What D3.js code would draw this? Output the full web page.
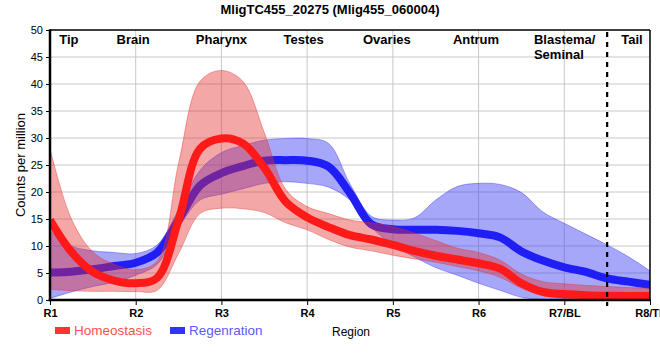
<!DOCTYPE html>
<html>
<head>
<meta charset="utf-8">
<script src="https://cdn.jsdelivr.net/npm/d3@7"></script>
<style>
  html, body { margin: 0; padding: 0; background: #fff; }
  svg { display: block; font-family: "Liberation Sans", Arial, sans-serif; }
</style>
</head>
<body>
<svg id="chart" width="660" height="360"></svg>
<script>
// ---- data ----
const title = "MligTC455_20275 (Mlig455_060004)";
const tickLabels = ["R1", "R2", "R3", "R4", "R5", "R6", "R7/BL", "R8/TL"];
const yTicks = [0, 5, 10, 15, 20, 25, 30, 35, 40, 45, 50];
const regionNames = ["Tip", "Brain", "Pharynx", "Testes", "Ovaries", "Antrum", "Blastema/|Seminal", "Tail"];
const regionPos = [1.22, 1.97, 3.0, 3.96, 4.93, 5.97, 6.78, 7.79];
const tailBoundary = 7.5;

// sample positions (region units, quarter steps)
const positions = [1, 1.25, 1.5, 1.75, 2, 2.25, 2.5, 2.75, 3, 3.25, 3.5, 3.75, 4, 4.25, 4.5, 4.75,
                   5, 5.25, 5.5, 5.75, 6, 6.25, 6.5, 6.75, 7, 7.25, 7.5, 7.75, 8];

const homeoMean  = [14.8, 8.9, 5.2, 3.6, 3.1, 4.1, 14.8, 28.0, 29.9, 29.0, 24.5, 18.2, 15.3, 13.5, 12.0, 11.2,
                    10.2, 9.1, 8.2, 7.5, 6.8, 5.8, 3.1, 1.5, 1.1, 0.9, 0.8, 0.75, 0.75];
const homeoUpper = [28.0, 15.0, 8.9, 6.6, 5.6, 7.2, 25.3, 40.5, 42.5, 40.5, 31.0, 20.5, 17.3, 16.0, 14.8, 14.3,
                    13.6, 12.4, 11.0, 9.6, 8.8, 7.4, 4.8, 3.4, 3.0, 2.7, 2.5, 2.3, 2.2];
const homeoLower = [2.0, 1.7, 1.6, 1.6, 1.55, 1.8, 8.6, 16.0, 17.0, 16.9, 16.2, 14.3, 13.0, 11.2, 9.8, 9.1,
                    8.3, 7.6, 7.0, 6.2, 5.4, 4.2, 2.2, 0.8, 0.3, 0.2, 0.2, 0.2, 0.2];

const regenMean  = [5.1, 5.25, 5.7, 6.3, 6.9, 8.8, 14.8, 21.2, 23.5, 24.8, 25.8, 25.9, 25.8, 24.7, 19.8, 14.0,
                    13.1, 13.0, 13.0, 12.8, 12.35, 11.6, 9.0, 7.3, 6.05, 5.2, 4.0, 3.4, 2.8];
const regenUpper = [12.8, 10.0, 9.1, 8.8, 8.6, 10.2, 16.7, 24.0, 27.3, 28.6, 29.6, 29.9, 29.9, 29.0, 21.5, 15.5,
                    14.8, 15.2, 18.5, 21.0, 21.6, 21.4, 19.9, 16.3, 14.2, 12.2, 10.2, 8.0, 5.4];
const regenLower = [0.3, 1.5, 2.5, 3.3, 4.6, 6.6, 13.4, 18.5, 19.6, 20.6, 21.6, 21.9, 21.6, 20.9, 18.5, 13.5,
                    10.2, 8.0, 6.0, 4.6, 3.1, 1.8, 0.5, 0.1, 0, 0, 0, 0, 0];

const seriesNames = ["Homeostasis", "Regenration"];

// ---- layout ----
const svg = d3.select("#chart");
const L = 50, R = 650, T = 30, B = 300;
const x = d3.scaleLinear().domain([1, 8]).range([L, R]);
const y = d3.scaleLinear().domain([0, 50]).range([B, T]);

// grid
const grid = svg.append("g");
grid.selectAll("line.h").data(yTicks.slice(1, -1)).enter().append("line")
  .attr("x1", L).attr("x2", R).attr("y1", d => y(d)).attr("y2", d => y(d))
  .attr("stroke", "#c8c8c8").attr("stroke-width", 1);
grid.selectAll("line.v").data(d3.range(2, 8)).enter().append("line")
  .attr("y1", T).attr("y2", B).attr("x1", d => x(d)).attr("x2", d => x(d))
  .attr("stroke", "#c8c8c8").attr("stroke-width", 1);

svg.append("defs").append("clipPath").attr("id", "clip")
  .append("rect").attr("x", L).attr("y", T).attr("width", R - L).attr("height", B - T);

const plot = svg.append("g").attr("clip-path", "url(#clip)");

function mk(mean, lo, up) {
  return positions.map((p, i) => ({ p, m: mean[i], lo: lo[i], up: up[i] }));
}
const homeo = mk(homeoMean, homeoLower, homeoUpper);
const regen = mk(regenMean, regenLower, regenUpper);

const crv = d3.curveCatmullRom.alpha(0.5);
const area = d3.area().x(d => x(d.p)).y0(d => y(d.lo)).y1(d => y(d.up)).curve(crv);
const line = d3.line().x(d => x(d.p)).y(d => y(d.m)).curve(crv);

// regeneration first (below), homeostasis on top
plot.append("path").datum(regen).attr("d", area)
  .attr("fill", "rgba(60,60,245,0.45)").attr("stroke", "rgba(60,60,245,0.45)").attr("stroke-width", 1);
plot.append("path").datum(regen).attr("d", line)
  .attr("fill", "none").attr("stroke", "#1e1ef5").attr("stroke-width", 8);
plot.append("path").datum(homeo).attr("d", area)
  .attr("fill", "rgba(228,45,45,0.42)").attr("stroke", "rgba(228,45,45,0.4)").attr("stroke-width", 1);
plot.append("path").datum(homeo).attr("d", line)
  .attr("fill", "none").attr("stroke", "#ff1a1a").attr("stroke-width", 8);

// dashed tail boundary
svg.append("line").attr("x1", x(tailBoundary)).attr("x2", x(tailBoundary))
  .attr("y1", T + 2).attr("y2", B + 6)
  .attr("stroke", "#000").attr("stroke-width", 2.2).attr("stroke-dasharray", "5,5");

// borders
svg.append("line").attr("x1", L).attr("x2", R).attr("y1", T).attr("y2", T)
  .attr("stroke", "#000").attr("stroke-width", 1.5);
svg.append("line").attr("x1", R).attr("x2", R).attr("y1", T).attr("y2", B)
  .attr("stroke", "#000").attr("stroke-width", 1.5);

// axes
const yAxis = d3.axisLeft(y).tickValues(yTicks).tickSize(4).tickPadding(3);
const gy = svg.append("g").attr("transform", `translate(${L},0)`).call(yAxis);
gy.select(".domain").remove();
gy.selectAll("text").attr("font-size", 11).attr("font-family", "Liberation Sans, Arial, sans-serif").attr("fill", "#000");
svg.append("line").attr("x1", L).attr("x2", L).attr("y1", T - 0.75).attr("y2", B + 1.25)
  .attr("stroke", "#000").attr("stroke-width", 2.5);

const xAxis = d3.axisBottom(x).tickValues(d3.range(1, 9)).tickFormat((d, i) => tickLabels[i]).tickSize(5).tickPadding(4);
const gx = svg.append("g").attr("transform", `translate(0,${B})`).call(xAxis);
gx.select(".domain").remove();
gx.selectAll("text").attr("font-size", 11).attr("font-weight", "bold")
  .attr("font-family", "Liberation Sans, Arial, sans-serif").attr("fill", "#000");
svg.append("line").attr("x1", L - 1.25).attr("x2", R + 0.75).attr("y1", B).attr("y2", B)
  .attr("stroke", "#000").attr("stroke-width", 2.5);

// region labels
regionNames.forEach((name, i) => {
  const parts = name.split("|");
  const t = svg.append("text").attr("font-size", 13).attr("font-weight", "bold").attr("fill", "#000");
  if (parts.length > 1) {
    t.attr("text-anchor", "start");
    parts.forEach((p, j) => t.append("tspan").attr("x", x(regionPos[i]) - 11.5).attr("y", 44 + j * 14.5).text(p));
  } else {
    t.attr("text-anchor", "middle").attr("x", x(regionPos[i])).attr("y", 44).text(name);
  }
});

// title
svg.append("text").attr("x", 330).attr("y", 13.5).attr("text-anchor", "middle")
  .attr("font-size", 13).attr("font-weight", "bold").text(title);

// y label
svg.append("text").attr("transform", "translate(25,165) rotate(-90)").attr("text-anchor", "middle")
  .attr("font-size", 13).text("Counts per million");

// legend
const legColors = ["#ff3333", "#3333ff"];
const legText = ["#ff5050", "#5a5aff"];
const legX = [55, 170];
seriesNames.forEach((n, i) => {
  svg.append("rect").attr("x", legX[i]).attr("y", 327).attr("width", 15).attr("height", 7).attr("fill", legColors[i]);
  svg.append("text").attr("x", legX[i] + 19).attr("y", 335).attr("font-size", 13.5).attr("fill", legText[i]).text(n);
});
svg.append("text").attr("x", 332).attr("y", 336).attr("font-size", 12).attr("fill", "#000").text("Region");
</script>
</body>
</html>
